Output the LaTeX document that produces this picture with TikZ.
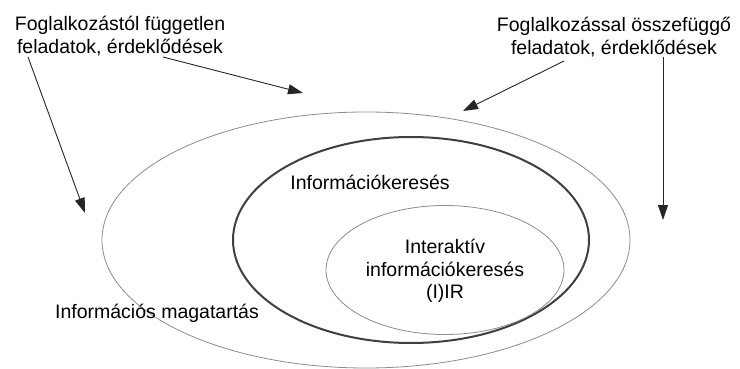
\documentclass[tikz,border=0pt]{standalone}
\usepackage{fontspec}
\setmainfont{Liberation Sans}
\usetikzlibrary{arrows.meta,shapes.geometric}
\begin{document}
\begin{tikzpicture}[x=1pt,y=-1pt,
  lbl/.style={font=\fontsize{19.5}{22.5}\selectfont, align=center, inner sep=0pt},
  ring/.style={ellipse, draw, inner sep=0pt},
  arr/.style={draw=black!85, line width=0.9pt, -{Triangle[length=15pt,width=10pt]}}]
\useasboundingbox[fill=white] (0,0) rectangle (740,369);
\node[ring, draw=black!45, line width=0.8pt, minimum width=528pt, minimum height=256pt] (outer) at (366,240) {};
\node[ring, draw=black!75, line width=2pt, minimum width=356pt, minimum height=206pt] (search) at (411,240) {};
\node[ring, draw=black!45, line width=0.8pt, minimum width=238pt, minimum height=129pt] (inner) at (445,270) {};

\node[lbl] (tl) at (120,36) {Foglalkozástól független\\feladatok, érdeklődések};
\node[lbl] (tr) at (614,37) {Foglalkozással összefüggő\\feladatok, érdeklődések};
\node[lbl] (ik) at (370,182) {Információkeresés};
\node[lbl] (iir) at (445,271) {Interaktív\\információkeresés\\(I)IR};
\node[lbl] (im) at (157,313) {Információs magatartás};

\coordinate (s1) at (28,57);  \coordinate (e1) at (85,213);
\coordinate (s2) at (163,57); \coordinate (e2) at (303,93);
\coordinate (s3) at (564,61); \coordinate (e3) at (463,111);
\coordinate (s4) at (663,57); \coordinate (e4) at (663,220);
\draw[arr] (s1) -- (e1);
\draw[arr] (s2) -- (e2);
\draw[arr] (s3) -- (e3);
\draw[arr] (s4) -- (e4);
\end{tikzpicture}
\end{document}
